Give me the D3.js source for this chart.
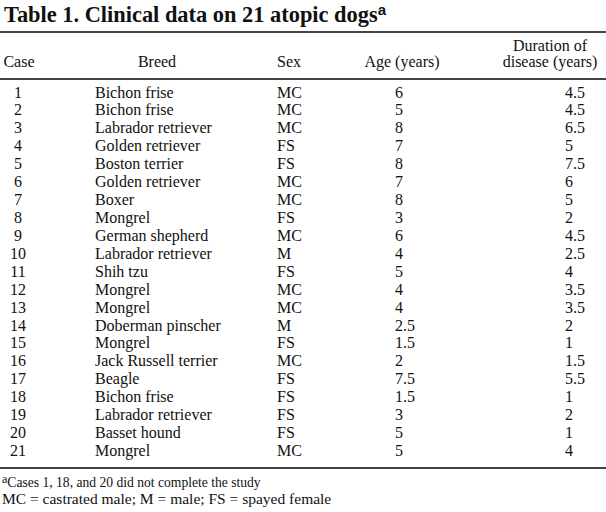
<!DOCTYPE html>
<html>
<head>
<meta charset="utf-8">
<script src="https://cdn.jsdelivr.net/npm/d3@7"></script>
<style>
  body { margin: 0; background: #fff; }
  svg { display: block; }
  text { font-family: "Liberation Serif", "Times New Roman", serif; fill: #111; }
</style>
</head>
<body>
<div id="table"></div>
<script>
// table data
const cases = ['1','2','3','4','5','6','7','8','9','10','11','12','13','14','15','16','17','18','19','20','21']
const breeds = ['Bichon frise','Bichon frise','Labrador retriever','Golden retriever','Boston terrier',
    'Golden retriever','Boxer','Mongrel','German shepherd','Labrador retriever','Shih tzu','Mongrel',
    'Mongrel','Doberman pinscher','Mongrel','Jack Russell terrier','Beagle','Bichon frise',
    'Labrador retriever','Basset hound','Mongrel']
const sexes = ['MC','MC','MC','FS','FS','MC','MC','FS','MC','M','FS','MC','MC','M','FS','MC','FS','FS','FS','FS','MC']
const ages = ['6','5','8','7','8','7','8','3','6','4','5','4','4','2.5','1.5','2','7.5','1.5','3','5','5']
const durations = ['4.5','4.5','6.5','5','7.5','6','5','2','4.5','2.5','4','3.5','3.5','2','1','1.5','5.5','1','2','1','4']
const title = 'Table 1. Clinical data on 21 atopic dogs'
const footA = 'Cases 1, 18, and 20 did not complete the study'
const footB = 'MC = castrated male; M = male; FS = spayed female'

const width = 606
const height = 512
const fs = 16

const svg = d3.select('#table').append('svg')
    .attr('width', width)
    .attr('height', height)

// columns: header text, header anchor/x, cell anchor/x
const columns = [
    { key: 'case',  head: ['Case'],  hx: 19,  ha: 'middle', cx: 18,  ca: 'middle', values: cases },
    { key: 'breed', head: ['Breed'], hx: 157, ha: 'middle', cx: 95,  ca: 'start',  values: breeds },
    { key: 'sex',   head: ['Sex'],   hx: 277, ha: 'start',  cx: 277, ca: 'start',  values: sexes },
    { key: 'age',   head: ['Age (years)'], hx: 402, ha: 'middle', cx: 395, ca: 'start', values: ages },
    { key: 'dur',   head: ['Duration of', 'disease (years)'], hx: 550, ha: 'middle', cx: 565, ca: 'start', values: durations }
]

const y = d3.scaleLinear()
    .domain([0, cases.length - 1])
    .range([97.5, 456])

// title
const t = svg.append('text')
    .attr('x', 4)
    .attr('y', 22)
    .style('font-weight', 'bold')
    .style('font-size', '22.4px')
    .text(title)
t.append('tspan')
    .attr('dy', -7)
    .style('font-family', '"Liberation Sans", Arial, sans-serif')
    .style('font-size', '15px')
    .text('a')

// rules
const rules = [32, 79, 468]
svg.selectAll('line.rule').data(rules)
    .join('line')
    .attr('class', 'rule')
    .attr('x1', 0)
    .attr('x2', width)
    .attr('y1', d => d)
    .attr('y2', d => d)
    .attr('stroke', '#444')
    .attr('stroke-width', 1.8)

// headers
columns.forEach(col => {
    const n = col.head.length
    col.head.forEach((h, i) => {
        svg.append('text')
            .attr('x', col.hx)
            .attr('y', 67 - (n - 1 - i) * 16.5)
            .attr('text-anchor', col.ha)
            .style('font-size', fs + 'px')
            .text(h)
    })
})

// cells
columns.forEach(col => {
    svg.append('g')
        .attr('class', 'col-' + col.key)
        .selectAll('text')
        .data(col.values)
        .join('text')
        .attr('x', col.cx)
        .attr('y', (d, i) => y(i))
        .attr('text-anchor', col.ca)
        .style('font-size', fs + 'px')
        .text(d => d)
})

// footnotes
const f1 = svg.append('text')
    .attr('x', 2)
    .attr('y', 487)
    .style('font-size', '13.6px')
f1.append('tspan')
    .attr('dy', -4)
    .style('font-size', '12px')
    .text('a')
f1.append('tspan')
    .attr('dy', 4)
    .text(footA)
svg.append('text')
    .attr('x', 2)
    .attr('y', 504)
    .style('font-size', '15.5px')
    .text(footB)
</script>
</body>
</html>
